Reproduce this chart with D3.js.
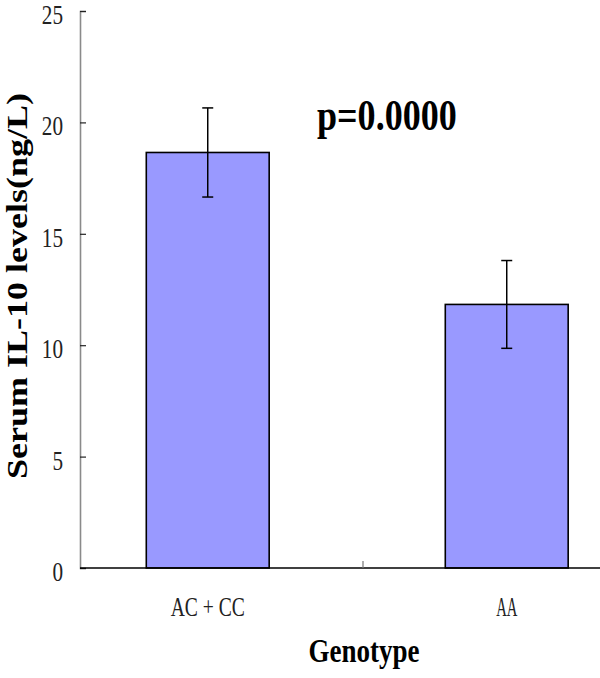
<!DOCTYPE html>
<html>
<head>
<meta charset="utf-8">
<script src="https://cdn.jsdelivr.net/npm/d3@7"></script>
<style>
  body { margin: 0; background: #fff; }
  svg { display: block; }
</style>
</head>
<body>
<div id="chart"></div>
<script>
// data
const genotypes = ["AC + CC", "AA"];
const meanLevels = [18.65, 11.83];
const errLevels = [2.0, 1.97];
const yTicks = [0, 5, 10, 15, 20, 25];
const pLabel = "p=0.0000";

const width = 600;
const height = 678;

const svg = d3.select("#chart")
    .append("svg")
    .attr("width", width)
    .attr("height", height);

//Scales
const y = d3.scaleLinear()
    .domain([0, 25])
    .range([568, 11]);

const x = d3.scaleBand()
    .domain(genotypes)
    .range([80, 646])
    .paddingInner(0.589)
    .paddingOuter(0.241)
    .align(0.46);

// half-width serif look of the original labels
const charW = 10.6;
function squeeze(sel) {
    sel.attr("textLength", function () { return this.textContent.length * charW; })
        .attr("lengthAdjust", "spacingAndGlyphs");
}

//Y axis
const yAxis = svg.append("g")
    .attr("transform", "translate(80,0)")
    .call(d3.axisRight(y).tickValues(yTicks).tickSize(6).tickFormat(d3.format("d")));
yAxis.select(".domain").attr("stroke", "#8a8a8a").attr("stroke-width", 1.6);
yAxis.selectAll(".tick line").attr("stroke", "#222").attr("stroke-width", 1.2);
yAxis.selectAll(".tick text")
    .attr("x", -17)
    .attr("dy", 12.5)
    .attr("text-anchor", "end")
    .style("font-family", "'Liberation Serif', serif")
    .style("font-size", "28px")
    .attr("fill", "#222")
    .call(squeeze);

//Bars
const rows = genotypes.map((g, i) => ({ g, mean: meanLevels[i], err: errLevels[i] }));

svg.selectAll(".bar")
    .data(rows)
    .enter().append("rect")
    .attr("class", "bar")
    .attr("x", d => x(d.g))
    .attr("y", d => y(d.mean))
    .attr("width", x.bandwidth())
    .attr("height", d => y(0) - y(d.mean))
    .attr("fill", "#9999ff")
    .attr("stroke", "#000")
    .attr("stroke-width", 1.6);

//Error bars
const capW = 5.5;
const eb = svg.selectAll(".err")
    .data(rows)
    .enter().append("g")
    .attr("class", "err")
    .attr("stroke", "#000")
    .attr("stroke-width", 1.5);
eb.append("line")
    .attr("x1", d => x(d.g) + x.bandwidth() / 2)
    .attr("x2", d => x(d.g) + x.bandwidth() / 2)
    .attr("y1", d => y(d.mean + d.err))
    .attr("y2", d => y(d.mean - d.err));
eb.append("line")
    .attr("x1", d => x(d.g) + x.bandwidth() / 2 - capW)
    .attr("x2", d => x(d.g) + x.bandwidth() / 2 + capW)
    .attr("y1", d => y(d.mean + d.err))
    .attr("y2", d => y(d.mean + d.err));
eb.append("line")
    .attr("x1", d => x(d.g) + x.bandwidth() / 2 - capW)
    .attr("x2", d => x(d.g) + x.bandwidth() / 2 + capW)
    .attr("y1", d => y(d.mean - d.err))
    .attr("y2", d => y(d.mean - d.err));

//X axis
const [r0, r1] = x.range();
svg.append("line")
    .attr("x1", r0).attr("x2", width)
    .attr("y1", y(0)).attr("y2", y(0))
    .attr("stroke", "#000")
    .attr("stroke-width", 1.6);
svg.append("line")
    .attr("x1", (r0 + r1) / 2).attr("x2", (r0 + r1) / 2)
    .attr("y1", y(0)).attr("y2", y(0) - 7)
    .attr("stroke", "#777")
    .attr("stroke-width", 1.2);

svg.selectAll(".cat")
    .data(genotypes)
    .enter().append("text")
    .attr("class", "cat")
    .attr("x", d => x(d) + x.bandwidth() / 2)
    .attr("y", 616)
    .attr("text-anchor", "middle")
    .style("font-family", "'Liberation Serif', serif")
    .style("font-size", "28px")
    .attr("fill", "#222")
    .text(d => d)
    .call(squeeze);

//Titles
svg.append("text")
    .attr("transform", `translate(${(r0 + r1) / 2 + 1},662) scale(0.82,1)`)
    .attr("text-anchor", "middle")
    .style("font-family", "'Liberation Serif', serif")
    .style("font-size", "33px")
    .style("font-weight", "bold")
    .text("Genotype");

svg.append("text")
    .attr("transform", "translate(27,286) rotate(-90) scale(1,0.83)")
    .attr("text-anchor", "middle")
    .style("font-family", "'Liberation Serif', serif")
    .style("font-size", "36px")
    .style("font-weight", "bold")
    .text("Serum IL-10 levels(ng/L)");

svg.append("text")
    .attr("transform", "translate(317,130) scale(0.82,1)")
    .style("font-family", "'Liberation Serif', serif")
    .style("font-size", "44px")
    .style("font-weight", "bold")
    .text(pLabel);
</script>
</body>
</html>
